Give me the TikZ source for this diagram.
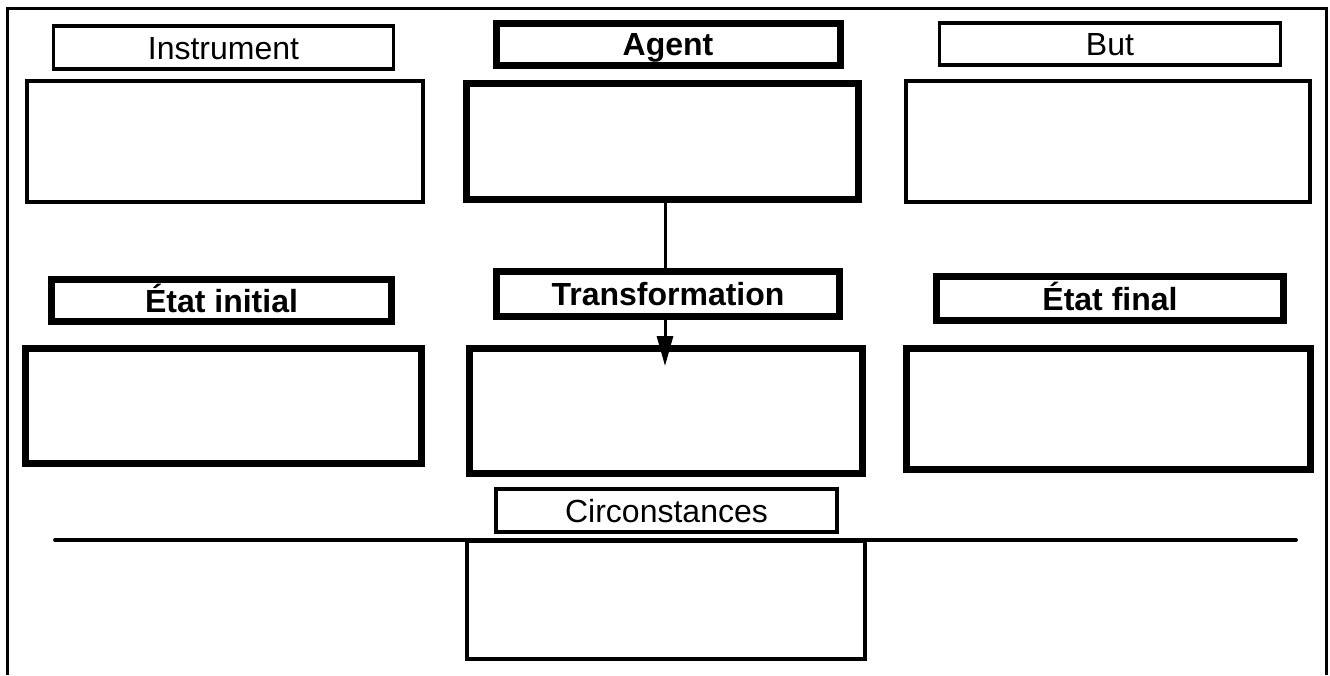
\documentclass[tikz,border=0pt]{standalone}
\usepackage{fontspec}
\setmainfont{Liberation Sans}
\usetikzlibrary{arrows.meta,backgrounds}
\begin{document}
\begin{tikzpicture}[x=1pt,y=-1pt,
  txt/.style={font=\fontsize{32}{38}\selectfont, inner sep=0pt, anchor=center,
    text height=23pt, text depth=0pt},
  thinlbl/.style={txt, draw, line width=3.2pt, fill=white},
  thicklbl/.style={txt, draw, line width=7pt, fill=white, font=\fontsize{32}{38}\selectfont\bfseries},
  thinbox/.style={draw, line width=3.2pt, inner sep=0pt},
  thickbox/.style={draw, line width=7.5pt, inner sep=0pt},
  rule/.style={line width=3.8pt, line cap=round},
  link/.style={line width=3pt, -{Triangle[length=30pt,width=16pt]}}]
\useasboundingbox (0,0) rectangle (1330,675);
% outer frame, open at the bottom
\draw[line width=3pt] (7,675) |- (1326,8) -- (1326,675);

% first row
\node[thinlbl, minimum width=340pt, minimum height=43pt] (instL) at (223.5,47.5) {Instrument};
\node[thinbox, minimum width=396pt, minimum height=121pt] (instB) at (225,141.5) {};
\node[thicklbl, minimum width=344pt, minimum height=42pt] (agL) at (668,44) {Agent};
\node[thickbox, minimum width=392pt, minimum height=116pt] (agB) at (662.5,141.5) {};
\node[thinlbl, minimum width=341pt, minimum height=42pt] (butL) at (1110,44) {But};
\node[thinbox, minimum width=404pt, minimum height=121pt] (butB) at (1108,141.5) {};

% second row
\node[thicklbl, minimum width=340pt, minimum height=42pt] (eiL) at (221.5,300.5) {État initial};
\node[thickbox, minimum width=396pt, minimum height=115pt] (eiB) at (223.5,406) {};
\node[thicklbl, minimum width=343pt, minimum height=45pt] (trL) at (668,294) {Transformation};
\node[thickbox, minimum width=393pt, minimum height=125pt] (trB) at (666,411) {};
\node[thicklbl, minimum width=347pt, minimum height=44pt] (efL) at (1110,298.5) {État final};
\node[thickbox, minimum width=404pt, minimum height=121pt] (efB) at (1108.5,409) {};

% third row
\node[thinlbl, minimum width=341pt, minimum height=43pt] (ciL) at (666.5,510.5) {Circonstances};
\node[thinbox, minimum width=398pt, minimum height=118pt] (ciB) at (666,600) {};
\coordinate (ruleW) at (55,540);
\coordinate (ruleE) at (1296,540);
\draw[rule] (ruleW) -- (ruleE);

% agent acts on the transformation
\coordinate (tip) at (665,366);
\begin{scope}[on background layer]
  \draw[link] (agB.south -| tip) -- (tip);
\end{scope}
\end{tikzpicture}
\end{document}
